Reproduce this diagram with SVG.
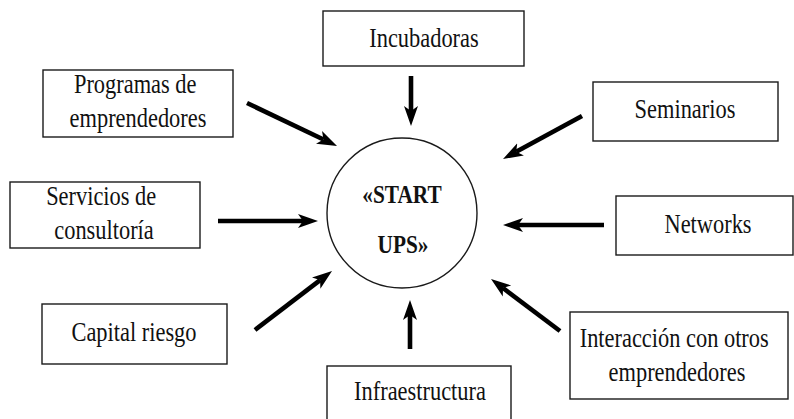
<svg xmlns="http://www.w3.org/2000/svg" width="794" height="419" viewBox="0 0 794 419">
  <style>
    .box { fill: #ffffff; stroke: #1a1a1a; stroke-width: 1.4; }
    .hub { fill: #ffffff; stroke: #1a1a1a; stroke-width: 1.4; }
    .lbl { font-family: "Liberation Serif", "Times New Roman", serif; font-size: 27px; fill: #111111; text-anchor: middle; }
    .hubtxt { font-family: "Liberation Serif", "Times New Roman", serif; font-size: 26px; font-weight: bold; fill: #111111; text-anchor: middle; }
    .arrow { stroke: #000000; stroke-width: 4.6; fill: none; marker-end: url(#head); }
  </style>
  <defs>
    <!-- barbed arrowhead; refX sits on the notch so the shaft tucks into it -->
    <marker id="head" markerUnits="userSpaceOnUse" viewBox="0 -8 20 16" markerWidth="20" markerHeight="16" refX="5" refY="0" orient="auto">
      <path d="M0,-7 L20,0 L0,7 L5,0 Z" fill="#000000"/>
    </marker>
  </defs>

  <rect width="794" height="419" fill="#ffffff"/>

  <!-- central hub -->
  <g id="startups">
    <circle class="hub" cx="402" cy="213" r="75"/>
    <text class="hubtxt" transform="translate(402,203) scale(0.82,1)">«START</text>
    <text class="hubtxt" transform="translate(403,253) scale(0.82,1)">UPS»</text>
  </g>

  <g id="incubadoras">
    <rect class="box" x="323" y="11" width="201" height="55"/>
    <text class="lbl" transform="translate(424,47) scale(0.83,1)">Incubadoras</text>
  </g>

  <g id="programas">
    <rect class="box" x="43" y="70" width="190" height="67"/>
    <text class="lbl" transform="translate(138,93) scale(0.83,1)">
      <tspan x="0" y="0">Programas de</tspan>
      <tspan x="0" y="34">emprendedores</tspan>
    </text>
  </g>

  <g id="seminarios">
    <rect class="box" x="593" y="82" width="185" height="59"/>
    <text class="lbl" transform="translate(685,118) scale(0.83,1)">Seminarios</text>
  </g>

  <g id="servicios">
    <rect class="box" x="10" y="182" width="190" height="66"/>
    <text class="lbl" transform="translate(104,205) scale(0.83,1)">
      <tspan x="0" y="0">Servicios de</tspan>
      <tspan x="0" y="34">consultoría</tspan>
    </text>
  </g>

  <g id="networks">
    <rect class="box" x="616" y="196" width="177" height="59"/>
    <text class="lbl" transform="translate(708,233) scale(0.83,1)">Networks</text>
  </g>

  <g id="capital">
    <rect class="box" x="42" y="304" width="185" height="60"/>
    <text class="lbl" transform="translate(134,341) scale(0.83,1)">Capital riesgo</text>
  </g>

  <g id="infraestructura">
    <rect class="box" x="327" y="366" width="184" height="60"/>
    <text class="lbl" transform="translate(420,400) scale(0.83,1)">Infraestructura</text>
  </g>

  <g id="interaccion">
    <rect class="box" x="570" y="312" width="218" height="87"/>
    <text class="lbl" transform="translate(677,347) scale(0.83,1)">
      <tspan x="0" y="0">Interacción con otros</tspan>
      <tspan x="0" y="34">emprendedores</tspan>
    </text>
  </g>

  <!-- arrows pointing into the hub -->
  <g id="connectors">
    <line class="arrow" x1="411" y1="76" x2="411" y2="111"/>
    <line class="arrow" x1="247" y1="103" x2="323.5" y2="139.5"/>
    <line class="arrow" x1="582" y1="116" x2="516.2" y2="151.8"/>
    <line class="arrow" x1="218" y1="221" x2="303" y2="221"/>
    <line class="arrow" x1="604" y1="225" x2="518" y2="225"/>
    <line class="arrow" x1="255" y1="330" x2="320.1" y2="280.1"/>
    <line class="arrow" x1="410" y1="349" x2="410" y2="315"/>
    <line class="arrow" x1="560" y1="331" x2="503" y2="288"/>
  </g>
</svg>
